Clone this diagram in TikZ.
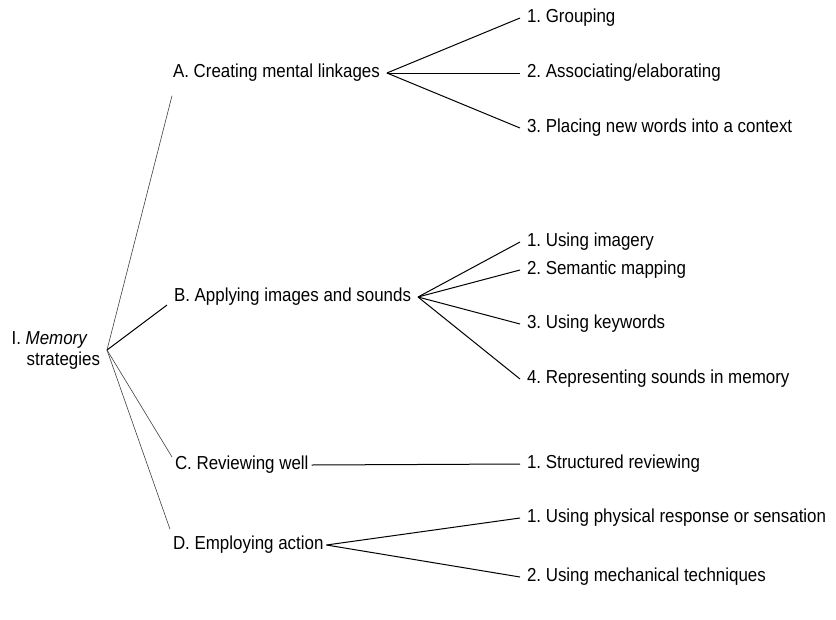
\documentclass[tikz,border=0pt]{standalone}
\usepackage{fontspec}
\setmainfont{Liberation Sans}[FakeStretch=0.9]
\usepackage{tikz}
\frenchspacing

\begin{document}
\begin{tikzpicture}[x=1pt,y=-1pt,
    item/.style={anchor=west, inner sep=2pt, outer sep=5pt, font=\fontsize{18.8}{21}\selectfont},
    link/.style={line width=1pt},
    faint/.style={line width=0.6pt, black!75}]
\useasboundingbox (0,0) rectangle (836,619);
                    % Nodes
                    \node[item, anchor=east, align=left] (mem) at (107,350) {I. \textit{Memory}\\\hspace*{15pt}strategies};
                    \node[item] (A) at (166,73) {A. Creating mental linkages};
                    \node[item] (B) at (167,297) {B. Applying images and sounds};
                    \node[item] (C) at (168,465) {C. Reviewing well};
                    \node[item] (D) at (166,545) {D. Employing action};
                    \node[item] (A1) at (520,18) {1. Grouping};
                    \node[item] (A2) at (520,73) {2. Associating/elaborating};
                    \node[item] (A3) at (520,128) {3. Placing new words into a context};
                    \node[item] (B1) at (520,242) {1. Using imagery};
                    \node[item] (B2) at (520,270) {2. Semantic mapping};
                    \node[item] (B3) at (520,324) {3. Using keywords};
                    \node[item] (B4) at (520,379) {4. Representing sounds in memory};
                    \node[item] (C1) at (520,464) {1. Structured reviewing};
                    \node[item] (D1) at (520,518) {1. Using physical response or sensation};
                    \node[item] (D2) at (520,577) {2. Using mechanical techniques};
                    % Edges
                    \draw[faint] (mem.east) -- ([xshift=6pt,yshift=-7pt]A.south west);
                    \draw[link] (mem.east) -- ([yshift=-8pt]B.west);
                    \draw[faint] (mem.east) -- ([xshift=4pt,yshift=8pt]C.west);
                    \draw[faint] (mem.east) -- ([xshift=4pt]D.north west);
                    \draw[link] (A.east) -- (A1.west);
                    \draw[link] (A.east) -- (A2.west);
                    \draw[link] (A.east) -- (A3.west);
                    \draw[link] (B.east) -- (B1.west);
                    \draw[link] (B.east) -- (B2.west);
                    \draw[link] (B.east) -- (B3.west);
                    \draw[link] (B.east) -- (B4.west);
                    \draw[link] ([xshift=-4pt]C.east) -- (C1.west);
                    \draw[link] ([xshift=-4pt]D.east) -- (D1.west);
                    \draw[link] ([xshift=-4pt]D.east) -- (D2.west);
                \end{tikzpicture}
\end{document}
